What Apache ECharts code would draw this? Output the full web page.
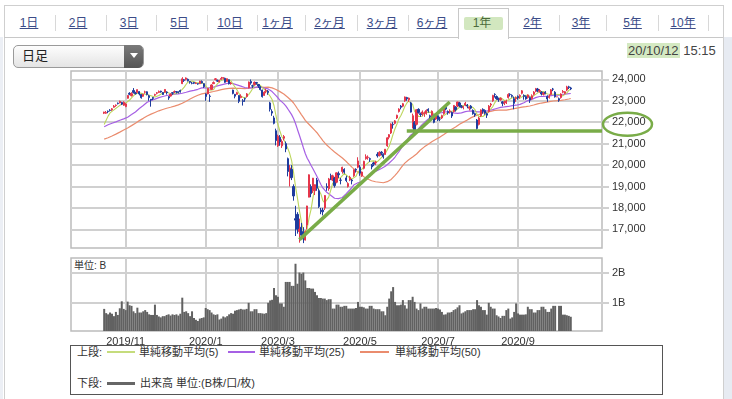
<!DOCTYPE html>
<html>
<head>
<meta charset="utf-8">
<script src="https://cdn.jsdelivr.net/npm/echarts@6/dist/echarts.min.js"></script>
<style>
html, body { margin: 0; padding: 0; background: #fff; }
body { width: 732px; height: 399px; position: relative; overflow: hidden;
       font-family: "Liberation Sans", "Noto Sans CJK JP", sans-serif; color: #333; }
.abs { position: absolute; }
.tab { position: absolute; top: 16px; width: 60px; text-align: center; font-size: 12px;
       line-height: 14px; color: #3b4c88; text-decoration: underline; }
.sep { position: absolute; top: 15px; width: 1px; height: 16px; background: #d8d8d8; }
.lg { position: absolute; font-size: 11px; line-height: 12px; color: #333; white-space: nowrap; }
.lgline { position: absolute; height: 1.5px; }
#chart { position: absolute; left: 0; top: 0; width: 732px; height: 399px; }
</style>
</head>
<body>
<!-- frame -->
<div class="abs" style="left:0;top:37px;width:3px;height:362px;background:#eceff5;"></div>
<div class="abs" style="left:723px;top:37px;width:9px;height:362px;background:#e7ebf2;"></div>
<div class="abs" style="left:4px;top:5px;width:718px;height:400px;border:1px solid #cfcfcf;border-bottom:none;"></div>
<div class="abs" style="left:4px;top:37px;width:719px;height:1px;background:#c8c8c8;"></div>
<div class="abs" style="left:458px;top:8px;width:49px;height:30px;border:1px solid #c8c8c8;border-bottom:none;background:#fff;"></div>
<div class="abs" style="left:464px;top:17px;width:39px;height:13px;background:#d2e7bf;border-radius:2px;"></div>
<div id="tabs"></div>

<!-- dropdown -->
<div class="abs" style="left:13px;top:45px;width:129px;height:21px;border:1px solid #9a9a9a;border-radius:5px;background:linear-gradient(#fdfdfd,#e4e4e4);"></div>
<div class="abs" style="left:124px;top:45px;width:19px;height:23px;border-radius:0 5px 5px 0;background:linear-gradient(#7a7a7a,#555);"></div>
<div class="abs" style="left:130px;top:53px;width:0;height:0;border-left:4px solid transparent;border-right:4px solid transparent;border-top:5px solid #fff;"></div>
<div class="abs" style="left:22px;top:48px;font-size:13px;line-height:16px;color:#222;">日足</div>

<!-- timestamp -->
<div class="abs" style="left:627px;top:43px;font-size:13px;line-height:16px;color:#444;white-space:nowrap;"><span style="background:#d4e9c2;padding:0 1px;">20/10/12</span> 15:15</div>

<!-- volume unit -->
<div class="abs" style="left:74px;top:260px;font-size:10px;line-height:12px;color:#333;">単位: B</div>

<!-- legend box -->
<div class="abs" style="left:70px;top:345px;width:591px;height:48px;border:1px solid #555;"></div>
<div class="lg" style="left:77px;top:346px;">上段:</div>
<div class="lgline" style="left:107px;top:351px;width:28px;background:#c5dc7c;"></div>
<div class="lg" style="left:139px;top:346px;">単純移動平均(5)</div>
<div class="lgline" style="left:228px;top:351px;width:27px;background:#a660e4;"></div>
<div class="lg" style="left:259px;top:346px;">単純移動平均(25)</div>
<div class="lgline" style="left:360px;top:351px;width:29px;background:#ea8c6e;"></div>
<div class="lg" style="left:395px;top:346px;">単純移動平均(50)</div>
<div class="lg" style="left:77px;top:377px;">下段:</div>
<div class="lgline" style="left:107px;top:381.5px;width:28px;height:3px;background:#666;"></div>
<div class="lg" style="left:140px;top:377px;">出来高 単位:(B株/口/枚)</div>

<div id="chart"></div>

<script>
// period tabs
const tabLabels = ['1日', '2日', '3日', '5日', '10日', '1ヶ月', '2ヶ月', '3ヶ月', '6ヶ月', '1年', '2年', '3年', '5年', '10年'];
const tabCenters = [29, 78, 129, 179.5, 230, 277.5, 329.5, 382, 432, 482, 532.5, 581, 632.5, 683];
const tabSeps = [55, 106, 156, 207, 257, 305, 357, 408, 559, 606, 658, 708];

// trading days shown (2019/10/16 - 2020/10/12)
const tradeMonths = ['2019/10', '2019/11', '2019/12', '2020/1', '2020/2', '2020/3', '2020/4',
    '2020/5', '2020/6', '2020/7', '2020/8', '2020/9', '2020/10'];
const tradeDays = [
    [16, 17, 18, 21, 23, 24, 25, 28, 29, 30, 31],
    [1, 5, 6, 7, 8, 11, 12, 13, 14, 15, 18, 19, 20, 21, 22, 25, 26, 27, 28, 29],
    [2, 3, 4, 5, 6, 9, 10, 11, 12, 13, 16, 17, 18, 19, 20, 23, 24, 25, 26, 27, 30],
    [6, 7, 8, 9, 10, 14, 15, 16, 17, 20, 21, 22, 23, 24, 27, 28, 29, 30, 31],
    [3, 4, 5, 6, 7, 10, 12, 13, 14, 17, 18, 19, 20, 21, 25, 26, 27, 28],
    [2, 3, 4, 5, 6, 9, 10, 11, 12, 13, 16, 17, 18, 19, 23, 24, 25, 26, 27, 30, 31],
    [1, 2, 3, 6, 7, 8, 9, 10, 13, 14, 15, 16, 17, 20, 21, 22, 23, 24, 27, 28, 30],
    [1, 7, 8, 11, 12, 13, 14, 15, 18, 19, 20, 21, 22, 25, 26, 27, 28, 29],
    [1, 2, 3, 4, 5, 8, 9, 10, 11, 12, 15, 16, 17, 18, 19, 22, 23, 24, 25, 26, 29, 30],
    [1, 2, 3, 6, 7, 8, 9, 10, 13, 14, 15, 16, 17, 20, 21, 22, 27, 28, 29, 30, 31],
    [3, 4, 5, 6, 7, 11, 12, 13, 14, 17, 18, 19, 20, 21, 24, 25, 26, 27, 28, 31],
    [1, 2, 3, 4, 7, 8, 9, 10, 11, 14, 15, 16, 17, 18, 23, 24, 25, 28, 29, 30],
    [1, 2, 5, 6, 7, 8, 9, 12]
];
// months that get a grid line and a label
const gridMonths = ['2019/11', '2020/1', '2020/3', '2020/5', '2020/7', '2020/9'];

// daily [open, close, low, high]
const candles = [
    [22420,22472,22381,22490],[22420,22451,22390,22522],[22510,22492,22420,22545],[22560,22549,22500,22610],[22580,22625,22530,22660],[22700,22750,22680,22801],[22780,22799,22720,22830],[22890,22867,22830,22920],[22900,22974,22880,23008],[22920,22843,22800,22950],[22790,22927,22760,22974],
    [22730,22850,22700,22890],[23118,23251,23100,23260],[23350,23303,23260,23400],[23240,23330,23200,23400],[23480,23391,23340,23592],[23380,23331,23290,23420],[23390,23520,23380,23530],[23430,23319,23250,23450],[23300,23141,23100,23310],[23210,23303,23180,23320],[23400,23416,23330,23470],[23420,23292,23250,23440],[23230,23148,23000,23280],[23070,23038,22726,23080],[23150,23112,23030,23180],[23260,23292,23220,23330],[23350,23373,23300,23410],[23390,23437,23360,23480],[23450,23409,23380,23470],[23390,23293,23270,23410],
    [23400,23529,23380,23540],[23410,23379,23290,23440],[23200,23135,23044,23220],[23220,23300,23200,23350],[23380,23354,23280,23400],[23420,23430,23360,23480],[23420,23410,23340,23450],[23400,23391,23340,23440],[23480,23424,23380,23520],[23800,24023,23780,24100],[23980,23952,23880,24020],[24000,24066,23950,24091],[24000,23934,23900,24040],[23900,23864,23800,23920],[23820,23816,23770,23880],[23850,23821,23780,23880],[23810,23830,23780,23860],[23800,23782,23750,23810],[23800,23924,23780,23930],[23900,23837,23810,23950],[23800,23656,23600,23810],
    [23320,23204,23000,23350],[23320,23575,23300,23580],[23217,23204,22951,23300],[23530,23739,23500,23768],[23800,23850,23780,23903],[23990,24025,23950,24060],[23950,23916,23880,23990],[23900,23933,23850,23980],[24000,24041,23990,24115],[24050,24083,24000,24100],[24050,23864,23840,24080],[23900,24031,23880,24040],[23980,23795,23760,23990],[23800,23827,23750,23880],[23500,23343,23300,23520],[23300,23216,23115,23320],[23300,23379,23280,23420],[23250,22977,22892,23260],[23150,23205,23120,23300],
    [23000,22971,22775,23080],[23100,23084,22950,23150],[23200,23320,23150,23360],[23600,23873,23580,23900],[23900,23827,23750,23995],[23700,23685,23600,23750],[23750,23861,23720,23900],[23850,23827,23750,23880],[23760,23687,23600,23780],[23650,23523,23480,23680],[23500,23194,23150,23520],[23250,23400,23230,23450],[23450,23479,23350,23550],[23450,23386,23280,23500],[22900,22605,22500,22950],[22500,22426,22300,22600],[22200,21948,21900,22300],[21600,21143,20916,21700],
    [20900,21344,20849,21420],[21300,21082,20900,21400],[20900,21100,20800,21200],[21250,21329,21150,21400],[21000,20749,20600,21100],[20300,19698,19472,20350],[19400,19867,19000,20000],[19800,19416,19300,20000],[19000,18559,18339,19100],[17500,17431,16690,18100],[17700,17002,16800,17800],[16900,17011,16378,17500],[17100,16726,16600,17300],[16900,16552,16358,17100],[16500,16887,16480,16950],[17200,18092,17000,18100],[18500,19546,18500,19564],[19000,18664,18500,19100],[18800,19389,18700,19400],[18800,19084,18600,19100],[19300,18917,18800,19400],
    [18800,18065,18000,18900],[17900,17819,17707,18000],[17900,17820,17650,18000],[18000,18576,17900,18600],[19000,18950,18800,19150],[18900,19353,18800,19400],[19500,19345,19300,19600],[19300,19498,19250,19550],[19400,19043,18950,19450],[19200,19638,19150,19650],[19600,19550,19400,19700],[19300,19290,19100,19400],[19700,19897,19600,19922],[19800,19669,19600,19850],[19400,19280,19200,19500],[19000,19137,18950,19200],[19300,19429,19250,19500],[19300,19262,19100,19350],[19500,19783,19450,19800],[19800,19771,19650,19850],[19900,20193,19850,20365],
    [19900,19619,19500,20000],[19500,19674,19450,19700],[19850,20179,19800,20200],[20300,20390,20250,20500],[20350,20366,20250,20450],[20300,20267,20150,20350],[20000,19915,19800,20050],[20100,20037,19950,20150],[20100,20133,20000,20200],[20500,20433,20350,20600],[20450,20595,20400,20650],[20600,20552,20450,20650],[20500,20388,20300,20550],[20500,20741,20480,20750],[20900,21271,20850,21300],[21300,21419,21200,21450],[21500,21916,21450,21950],[21900,21877,21700,22000],
    [21950,22062,21900,22100],[22200,22325,22150,22350],[22500,22613,22450,22650],[22750,22695,22600,22800],[22750,22863,22700,22900],[23000,23178,22950,23200],[23150,23091,23000,23185],[23050,23124,22950,23150],[22900,22472,22450,22950],[22000,22305,21710,22400],[22000,21530,21451,22050],[21900,22582,21850,22600],[22600,22455,22400,22650],[22400,22355,22250,22450],[22400,22478,22300,22550],[22400,22437,22250,22500],[22400,22549,22350,22600],[22600,22534,22450,22650],[22300,22259,22150,22350],[22300,22512,22250,22550],[22300,21995,21950,22350],[22150,22288,22100,22350],
    [22300,22121,22050,22350],[22150,22145,22050,22250],[22200,22306,22150,22350],[22400,22714,22350,22750],[22700,22614,22550,22750],[22500,22438,22350,22550],[22500,22529,22400,22600],[22450,22291,22200,22500],[22500,22784,22450,22800],[22700,22587,22500,22750],[22750,22945,22700,22950],[22900,22770,22700,22950],[22750,22696,22650,22800],[22700,22717,22600,22750],[22800,22884,22750,22950],[22800,22751,22650,22850],[22650,22715,22550,22750],[22750,22657,22600,22800],[22550,22397,22350,22600],[22400,22339,22250,22450],[22100,21710,21650,22150],
    [21900,22195,21850,22250],[22300,22573,22250,22600],[22600,22514,22400,22650],[22550,22418,22350,22600],[22400,22329,22200,22450],[22500,22750,22450,22800],[22800,22843,22700,22900],[23000,23249,22950,23280],[23300,23289,23150,23350],[23200,23096,23050,23250],[23100,23051,22950,23150],[23050,23110,23000,23150],[22950,22880,22750,22980],[22900,22920,22800,23000],[22900,22985,22850,23050],[23150,23296,23100,23350],[23300,23290,23200,23350],[23250,23208,23150,23300],[23100,22882,22604,23200],[23100,23139,22950,23200],
    [23200,23138,23050,23250],[23200,23247,23100,23300],[23350,23465,23300,23500],[23250,23205,23050,23300],[23200,23089,23050,23250],[23150,23274,23100,23300],[23150,23032,22900,23200],[23100,23235,23050,23300],[23300,23406,23250,23450],[23450,23559,23400,23600],[23550,23454,23400,23600],[23450,23475,23380,23550],[23400,23319,23250,23450],[23300,23360,23250,23400],[23400,23346,23300,23450],[23200,23087,22950,23250],[23150,23204,23100,23300],[23300,23511,23250,23550],[23550,23539,23450,23600],[23400,23185,23150,23450],
    [23185,23185,23185,23185],[23100,23029,22950,23150],[23150,23312,23100,23350],[23400,23433,23350,23500],[23350,23422,23300,23450],[23500,23647,23450,23700],[23650,23619,23550,23700],[23600,23558,23500,23650]
];

// closes before the window (2019/8/2 - 2019/10/15), needed for the moving averages
const priorCloses = [
    21087, 20720, 20585, 20517, 20593, 20685, 20455, 20655, 20406, 20419,
    20563, 20677, 20618, 20628, 20711, 20261, 20456, 20479, 20461, 20704,
    20620, 20626, 20649, 21086, 21200, 21318, 21392, 21598, 21760, 21988,
    22001, 21960, 22044, 22079, 22098, 22020, 22049, 21879, 21756,
    21885, 21778, 21342, 21410, 21375, 21588, 21456, 21552, 21799, 22207
];

// volume, billions
const volume = [
    0.80,0.66,0.62,0.68,0.64,0.56,0.70,0.60,0.82,1.05,0.80,
    0.76,1.04,0.92,0.90,0.72,0.66,0.84,0.68,0.68,0.72,0.76,0.70,0.62,0.60,0.60,0.94,0.60,0.55,0.52,0.56,
    0.56,0.60,0.62,0.58,0.62,0.60,0.62,0.58,0.64,1.17,0.70,0.72,0.66,0.56,0.72,0.50,0.44,0.40,0.48,0.50,0.52,
    0.83,0.79,0.76,0.68,0.62,0.60,0.62,0.45,0.48,0.55,0.52,0.56,0.62,0.66,0.64,0.74,0.76,0.78,0.80,
    0.78,0.78,0.80,1.00,0.72,0.72,0.79,0.79,0.66,0.66,0.65,0.64,0.66,1.00,1.08,1.10,1.49,1.25,
    1.20,0.98,0.98,0.87,1.69,1.69,1.69,1.56,1.56,2.29,1.63,2.00,1.96,2.00,1.74,1.49,1.49,1.47,1.47,1.36,1.25,
    1.16,1.16,1.14,1.14,1.09,1.12,1.12,0.81,0.81,0.94,0.94,0.87,0.87,0.90,0.90,0.81,0.81,0.81,0.81,0.83,1.03,
    0.87,0.87,0.85,0.81,0.81,0.90,0.90,0.81,0.79,0.79,0.79,0.72,0.72,0.59,0.87,1.14,1.38,1.52,
    1.03,0.92,0.92,0.94,1.09,0.92,0.81,1.09,1.09,1.20,1.03,0.81,0.76,0.98,0.81,0.87,0.87,0.81,0.81,0.81,0.81,0.83,
    0.81,0.78,0.70,0.61,0.62,0.68,0.68,0.70,0.76,0.79,0.85,0.92,0.65,0.68,0.72,0.76,0.76,0.76,0.79,0.79,1.09,
    0.92,0.87,0.76,0.76,0.61,1.00,0.87,0.81,0.81,0.59,0.55,0.50,0.57,0.57,0.76,0.81,0.48,0.52,0.70,0.98,
    0.65,0.61,0.61,0.61,0.62,0.87,0.79,0.79,0.68,0.68,0.76,0.76,0.87,0.87,0.79,0.70,0.70,0.81,0.90,0.90,
    0,0.90,0.90,0.61,0.61,0.59,0.57,0.54
];

const priceTicks = [17000, 18000, 19000, 20000, 21000, 22000, 23000, 24000];
const volumeTicks = [1, 2];

// hand-drawn green marks on the price panel
const trendLine = [['2020/3/17', 16520], ['2020/7/9', 22940]];
const supportLine = [['2020/6/9', 21610], ['a16', 21610]];

// ---- build ----
document.getElementById('tabs').innerHTML =
    tabLabels.map((t, i) => {
        const sel = t === '1年';
        return '<div class="tab" style="left:' + (tabCenters[i] - 30) + 'px;' +
            (sel ? 'text-decoration:none;color:#4b6b3b;' : '') + '">' + t + '</div>';
    }).join('') +
    tabSeps.map(x => '<div class="sep" style="left:' + x + 'px;"></div>').join('');

const dates = [];
tradeMonths.forEach((m, k) => tradeDays[k].forEach(d => dates.push(m + '/' + d)));
const cats = [];
for (let i = 1; i <= 17; i++) cats.push('b' + i);
dates.forEach(d => cats.push(d));
for (let i = 1; i <= 16; i++) cats.push('a' + i);

const gridDays = new Set(gridMonths.map(m => m + '/' + tradeDays[tradeMonths.indexOf(m)][0]));
const isGridDay = (idx, val) => gridDays.has(val);

const closes = candles.map(c => c[1]);
const allCloses = priorCloses.concat(closes);
function sma(n) {
    return closes.map((_, i) => {
        const end = priorCloses.length + i;
        let s = 0;
        for (let j = end - n + 1; j <= end; j++) s += allCloses[j];
        return [dates[i], Math.round(s / n)];
    });
}

const gridLine = { color: '#d0d0d0', width: 2 };
const green = '#79ac48';

const chart = echarts.init(document.getElementById('chart'));
chart.setOption({
    animation: false,
    textStyle: { fontFamily: 'Liberation Sans, Noto Sans CJK JP, sans-serif' },
    grid: [
        { left: 71, top: 71, width: 531, height: 177, show: true, borderColor: '#bcbcbc', borderWidth: 1.5 },
        { left: 71, top: 258, width: 531, height: 73, show: true, borderColor: '#bcbcbc', borderWidth: 1.5 }
    ],
    xAxis: [
        {
            type: 'category', gridIndex: 0, data: cats, boundaryGap: false,
            axisLine: { show: false }, axisTick: { show: false }, axisLabel: { show: false },
            splitLine: { show: true, interval: isGridDay, lineStyle: gridLine }
        },
        {
            type: 'category', gridIndex: 1, data: cats, boundaryGap: false,
            axisLine: { show: false }, axisTick: { show: false },
            axisLabel: {
                interval: isGridDay, fontSize: 11, color: '#333', margin: 5,
                formatter: v => v.slice(0, v.lastIndexOf('/'))
            },
            splitLine: { show: true, interval: isGridDay, lineStyle: gridLine }
        }
    ],
    yAxis: [
        {
            type: 'value', gridIndex: 0, position: 'right', min: 16130, max: 24390, splitNumber: 8,
            axisLine: { show: false },
            axisTick: { show: true, length: 7, customValues: priceTicks, lineStyle: gridLine },
            axisLabel: {
                customValues: priceTicks, margin: 10, fontSize: 11, color: '#333',
                formatter: v => v.toLocaleString('en-US')
            },
            splitLine: { show: true, lineStyle: gridLine }
        },
        {
            type: 'value', gridIndex: 1, position: 'right', min: 0.07, max: 2.48, splitNumber: 2,
            axisLine: { show: false },
            axisTick: { show: true, length: 7, customValues: volumeTicks, lineStyle: gridLine },
            axisLabel: {
                customValues: volumeTicks, margin: 10, fontSize: 11, color: '#333',
                formatter: v => v + 'B'
            },
            splitLine: { show: true, lineStyle: gridLine }
        }
    ],
    series: [
        {
            name: '単純移動平均(50)', type: 'line', data: sma(50), symbol: 'none', z: 2,
            lineStyle: { color: '#ea8c6e', width: 1.2 }, silent: true
        },
        {
            name: '単純移動平均(25)', type: 'line', data: sma(25), symbol: 'none', z: 2,
            lineStyle: { color: '#a660e4', width: 1.2 }, silent: true
        },
        {
            name: '単純移動平均(5)', type: 'line', data: sma(5), symbol: 'none', z: 2,
            lineStyle: { color: '#bcd65c', width: 1.1 }, silent: true
        },
        {
            name: '日足', type: 'candlestick', z: 3, barWidth: 1.7,
            data: candles.map((c, i) => [dates[i], c[0], c[1], c[2], c[3]]),
            encode: { x: 0, y: [1, 2, 3, 4] },
            itemStyle: {
                color: '#e5364b', color0: '#1e3c9e',
                borderColor: '#e5364b', borderColor0: '#1e3c9e', borderWidth: 1
            }
        },
        {
            name: 'marks', type: 'line', data: [], z: 5, silent: true,
            markLine: {
                silent: true, symbol: ['none', 'none'], label: { show: false },
                lineStyle: { color: green, width: 3.5, type: 'solid' },
                emphasis: { disabled: true },
                data: [
                    [{ coord: trendLine[0] }, { coord: trendLine[1] }],
                    [{ coord: supportLine[0] }, { coord: supportLine[1] }]
                ]
            }
        },
        {
            name: '出来高', type: 'bar', xAxisIndex: 1, yAxisIndex: 1, barWidth: 2,
            data: volume.map((v, i) => [dates[i], v]),
            itemStyle: { color: '#616161' }, silent: true
        }
    ]
});

// ring drawn round the 22,000 label
const y22 = chart.convertToPixel({ yAxisIndex: 0 }, 22000);
chart.setOption({
    graphic: [{
        type: 'ellipse', z: 100, silent: true,
        shape: { cx: 627.5, cy: y22 + 2, rx: 24.5, ry: 11.5 },
        style: { fill: 'none', stroke: green, lineWidth: 2.5 }
    }]
});
</script>
</body>
</html>
